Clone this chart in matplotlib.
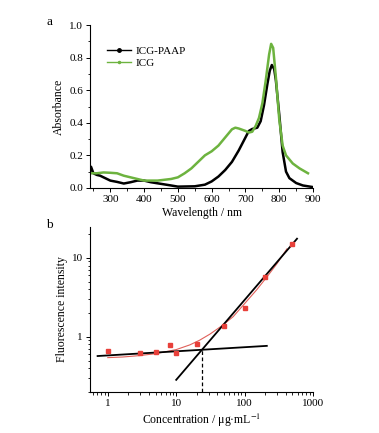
import numpy as np
import matplotlib
matplotlib.use('Agg')
import matplotlib.pyplot as plt
from matplotlib.ticker import MultipleLocator, LogLocator, NullFormatter

plt.rcParams['font.family'] = ['Liberation Serif', 'DejaVu Serif']
plt.rcParams['mathtext.fontset'] = 'stix'

# (a) 吸收光谱
wl_paap = [240, 243, 250, 260, 270, 285, 300, 320, 340, 360, 380, 400, 420, 450, 480, 500,
           550, 580, 600, 620, 640, 660, 680, 700, 710, 720, 735, 745, 755, 765, 772, 778,
           785, 790, 800, 810, 820, 830, 850, 870, 900]
abs_paap = [0.10, 0.13, 0.09, 0.08, 0.075, 0.06, 0.045, 0.037, 0.027, 0.035, 0.045, 0.045,
            0.035, 0.025, 0.015, 0.008, 0.01, 0.02, 0.04, 0.07, 0.11, 0.16, 0.23, 0.31,
            0.35, 0.362, 0.37, 0.41, 0.51, 0.64, 0.72, 0.755, 0.73, 0.66, 0.45, 0.22, 0.10,
            0.06, 0.03, 0.015, 0.005]

wl_icg = [240, 260, 280, 300, 320, 340, 360, 380, 400, 420, 440, 460, 480, 500, 520, 540,
          560, 580, 600, 620, 640, 660, 670, 680, 700, 710, 720, 730, 740, 750, 760, 770,
          776, 782, 790, 800, 810, 820, 840, 860, 885]
abs_icg = [0.09, 0.09, 0.095, 0.093, 0.09, 0.075, 0.065, 0.055, 0.045, 0.045, 0.045, 0.05,
           0.055, 0.065, 0.09, 0.12, 0.16, 0.20, 0.225, 0.26, 0.31, 0.36, 0.37, 0.365, 0.35,
           0.34, 0.345, 0.38, 0.43, 0.52, 0.66, 0.82, 0.885, 0.86, 0.68, 0.42, 0.26, 0.20,
           0.15, 0.12, 0.09]

# (b) 荧光强度
conc = [1, 3, 5, 8, 10, 20, 50, 100, 200, 500]
fluo = [0.656, 0.625, 0.637, 0.783, 0.618, 0.806, 1.355, 2.35, 5.66, 14.8]

fit_x = [1.0, 1.66, 2.9, 5.1, 10, 15.8, 22, 31, 46, 68, 99, 150, 211, 297, 415]
fit_y = [0.545, 0.555, 0.578, 0.613, 0.689, 0.79, 0.906, 1.08, 1.37, 1.80, 2.61, 3.94,
         5.72, 8.44, 13.0]

low_x = [0.71, 211]
low_y = [0.571, 0.768]
high_x = [10, 583]
high_y = [0.285, 17.5]
cross_x = 23.5
cross_y = 0.676

fig = plt.figure(figsize=(3.79, 4.33), dpi=100)

# ---- a ----
ax1 = fig.add_axes([0.2375, 0.566, 0.5885, 0.376])
ax1.plot(wl_paap, abs_paap, color='black', lw=1.8)
ax1.plot(wl_icg, abs_icg, color='#6db33f', lw=1.8)
ax1.set_xlim(240, 900)
ax1.set_ylim(0, 1.0)
ax1.xaxis.set_major_locator(MultipleLocator(100))
ax1.xaxis.set_minor_locator(MultipleLocator(50))
ax1.yaxis.set_major_locator(MultipleLocator(0.2))
ax1.yaxis.set_minor_locator(MultipleLocator(0.1))
ax1.yaxis.set_major_formatter(matplotlib.ticker.FormatStrFormatter('%.1f'))
ax1.set_xlabel('Wavelength / nm', fontsize=8.5, labelpad=2)
ax1.set_ylabel('Absorbance', fontsize=8.5, labelpad=3)
ax1.spines['top'].set_visible(False)
ax1.spines['right'].set_visible(False)

h1, = ax1.plot([], [], color='black', lw=1.0, marker='o', markersize=2.5)
h2, = ax1.plot([], [], color='#6db33f', lw=1.0, marker='o', markersize=1.5)
ax1.legend([h1, h2], ['ICG-PAAP', 'ICG'], loc='upper left', frameon=False,
           fontsize=8, handlelength=2.2, handletextpad=0.4, labelspacing=0.2,
           bbox_to_anchor=(0.03, 0.93))
fig.text(0.122, 0.942, 'a', fontsize=9.5)

# ---- b ----
ax2 = fig.add_axes([0.2375, 0.0947, 0.5885, 0.381])
ax2.set_xscale('log')
ax2.set_yscale('log')
ax2.plot(fit_x, fit_y, color='#e0605a', lw=0.8)
ax2.plot(low_x, low_y, color='black', lw=1.3)
ax2.plot(high_x, high_y, color='black', lw=1.3)
ax2.plot([cross_x, cross_x], [0.2, cross_y], color='black', lw=0.9, ls=(0, (3, 2)))
ax2.plot(conc, fluo, ls='none', marker='s', markersize=3.5, color='#e8403a')
ax2.set_xlim(0.55, 1000)
ax2.set_ylim(0.2, 24.6)
ax2.xaxis.set_major_locator(LogLocator(base=10, numticks=10))
ax2.xaxis.set_minor_locator(LogLocator(base=10, subs=np.arange(2, 10), numticks=20))
ax2.xaxis.set_minor_formatter(NullFormatter())
ax2.yaxis.set_minor_locator(LogLocator(base=10, subs=np.arange(2, 10), numticks=20))
ax2.yaxis.set_minor_formatter(NullFormatter())
ax2.xaxis.set_major_formatter(matplotlib.ticker.FuncFormatter(lambda v, p: '%g' % v))
ax2.yaxis.set_major_formatter(matplotlib.ticker.FuncFormatter(lambda v, p: '%g' % v))
ax2.set_xlabel('Concentration / μg·mL$^{-1}$', fontsize=8.5, labelpad=3)
ax2.set_ylabel('Fluorescence intensity', fontsize=8.5, labelpad=3)
ax2.spines['top'].set_visible(False)
ax2.spines['right'].set_visible(False)
fig.text(0.122, 0.473, 'b', fontsize=9.5)

for ax in (ax1, ax2):
    ax.tick_params(which='major', direction='out', length=3, width=0.7, labelsize=8, pad=2)
    ax.tick_params(which='minor', direction='out', length=1.8, width=0.6)
    for s in ax.spines.values():
        s.set_linewidth(0.8)

fig.savefig('out.png', dpi=100)
